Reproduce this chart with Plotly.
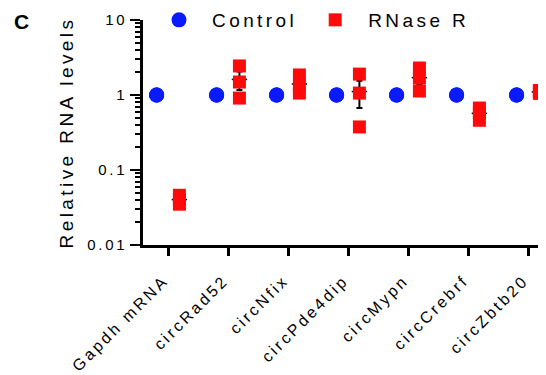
import numpy as np
import plotly.graph_objects as go

categories = ["Gapdh mRNA", "circRad52", "circNfix", "circPde4dip", "circMypn", "circCrebrf", "circZbtb20"]
control_reps = [
    [1.0, 1.0, 1.0],
    [1.0, 1.0, 1.0],
    [1.0, 1.0, 1.0],
    [1.0, 1.0, 1.0],
    [1.0, 1.0, 1.0],
    [1.0, 1.0, 1.0],
    [1.0, 1.0, 1.0],
]
rnase_reps = [
    [0.046, 0.040, 0.035],
    [2.44, 1.49, 0.91],
    [1.85, 1.30, 1.06],
    [1.90, 1.06, 0.375],
    [2.29, 1.69, 1.13],
    [0.67, 0.58, 0.46],
    [1.15, 1.10, 1.05],
]
y_tickvals = [0.01, 0.1, 1, 10]
y_ticktext = ["0.01", "0.1", "1", "10"]

offset = 0.19
idx = np.arange(len(categories))

def flat(reps, shift):
    xs, ys = [], []
    for i, r in enumerate(reps):
        for v in r:
            xs.append(i + shift)
            ys.append(v)
    return xs, ys

cx, cy = flat(control_reps, -offset)
rx, ry = flat(rnase_reps, offset)

r_mean = [float(np.mean(r)) for r in rnase_reps]
r_sem = [float(np.std(r, ddof=1) / np.sqrt(len(r))) for r in rnase_reps]

FAM = "Liberation Sans, Arial"

fig = go.Figure()
fig.add_trace(go.Scatter(
    x=list(idx + offset), y=r_mean, mode="markers", showlegend=False,
    marker=dict(symbol="line-ew", size=11, line=dict(width=1.5, color="black")),
    error_y=dict(type="data", array=r_sem, color="black", thickness=2, width=3),
))
fig.add_trace(go.Scatter(
    x=cx, y=cy, mode="markers", name="Control",
    marker=dict(symbol="circle", size=15, color="#0a1aff", line=dict(width=0)),
))
fig.add_trace(go.Scatter(
    x=rx, y=ry, mode="markers", name="RNase R",
    marker=dict(symbol="square", size=13, color="#ff0a0a", line=dict(width=0)),
))

PW = 403
PH = 225
fig.update_layout(
    width=538, height=367,
    margin=dict(l=135, r=0, t=12, b=130, autoexpand=False),
    plot_bgcolor="white", paper_bgcolor="white",
    font=dict(family=FAM, color="black", size=15),
    showlegend=True,
    legend=dict(orientation="h", x=3 / PW, y=1.0, xanchor="left", yanchor="middle",
                font=dict(size=19), itemwidth=56, bgcolor="rgba(0,0,0,0)",
                borderwidth=0),
)
fig.update_xaxes(
    range=[-0.417, 6.3], tickvals=list(idx), ticktext=categories, tickangle=-45,
    showline=True, linecolor="black", linewidth=2.5, ticks="outside", ticklen=8,
    tickwidth=2.5, tickcolor="black", showgrid=False, zeroline=False,
    tickfont=dict(size=16), automargin=False,
    ticklabelstandoff=9, ticklabelshift=-4,
)
fig.update_yaxes(
    type="log", range=[-2, 1], tickvals=y_tickvals, ticktext=y_ticktext,
    showline=True, linecolor="black", linewidth=2.5, ticks="outside", ticklen=10,
    tickwidth=2, tickcolor="black", showgrid=False, zeroline=False,
    minor=dict(ticks="outside", ticklen=5, tickwidth=1.5, tickcolor="black", dtick="D1", showgrid=False),
    title=dict(text="Relative RNA levels", font=dict(size=19), standoff=9),
    tickfont=dict(size=15), automargin=False,
)
fig.add_annotation(text="<b>C</b>", xref="paper", yref="paper",
                   x=-131 / PW, y=1 + 12 / PH, xanchor="left", yanchor="top",
                   showarrow=False, font=dict(size=21))

post = """
var gd = document.getElementById('{plot_id}');
var s = document.createElement('style');
s.innerHTML = 'svg text { letter-spacing: 0.18em; }';
document.head.appendChild(s);
Plotly.relayout(gd, {'font.family': 'Liberation Sans, Arial, sans-serif'});
"""

fig.write_html("out.html", post_script=post)
